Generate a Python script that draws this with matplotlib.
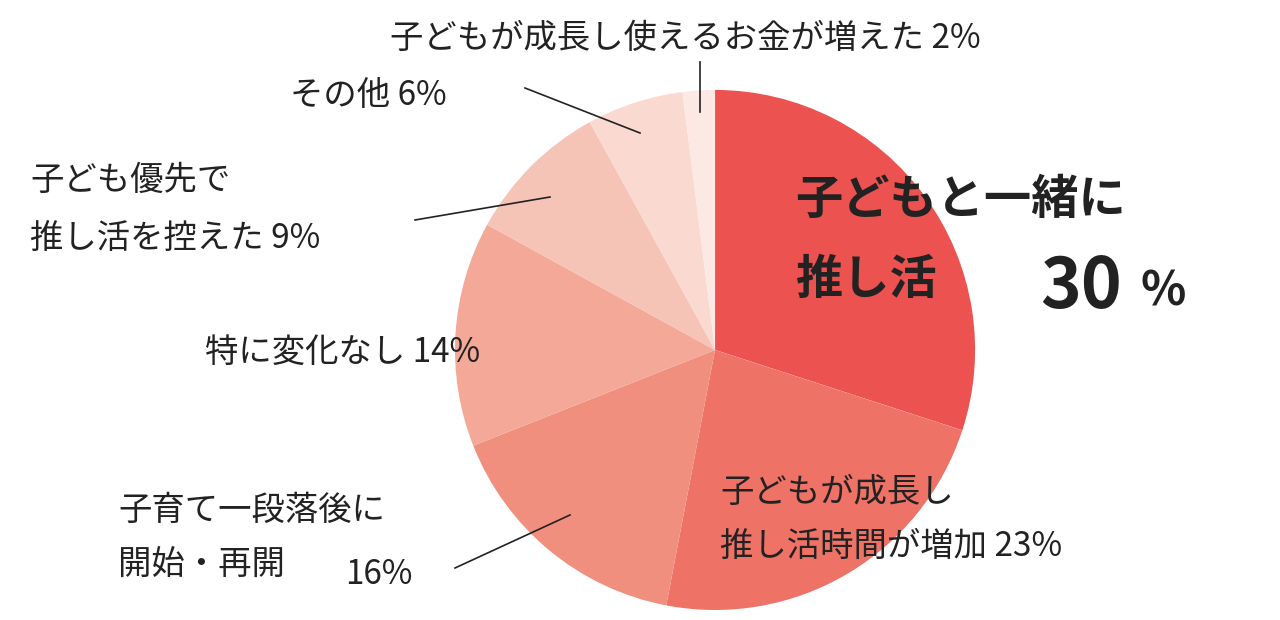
import matplotlib
matplotlib.use("Agg")
import matplotlib.pyplot as plt

plt.rcParams['font.family'] = ['Noto Sans CJK JP', 'DejaVu Sans']

labels = ["子どもと一緒に推し活", "子どもが成長し推し活時間が増加", "子育て一段落後に開始・再開",
          "特に変化なし", "子ども優先で推し活を控えた", "その他", "子どもが成長し使えるお金が増えた"]
values = [30, 23, 16, 14, 9, 6, 2]
colors = ["#EB5250", "#EE7266", "#F08F7E", "#F3A898", "#F6C3B7", "#F9D9D0", "#FCE9E4"]
explode = [0.11, 0, 0, 0, 0, 0, 0]

fig = plt.figure(figsize=(12.8, 6.2), dpi=100)
ax = fig.add_axes([0, 0, 1, 1])

H = 620
def Y(y): return H - y

ax.pie(values, colors=colors, explode=explode, startangle=90, counterclock=False,
       center=(715, Y(350)), radius=260, frame=True,
       wedgeprops=dict(linewidth=0))
ax.set_xlim(0, 1280); ax.set_ylim(0, 620); ax.set_aspect('equal'); ax.axis('off')

fs = 24
c = "#222222"
def t(x, y, s, **kw):
    kw.setdefault('fontsize', fs)
    ax.text(x, Y(y), s, color=c, va='center', **kw)
def line(x1, y1, x2, y2):
    ax.plot([x1, x2], [Y(y1), Y(y2)], color=c, lw=1.2)

t(390, 38, f"子どもが成長し使えるお金が増えた {values[6]}%")
line(700, 62, 700, 112)
t(290, 95, f"その他 {values[5]}%")
line(525, 88, 640, 133)
t(30, 180, "子ども優先で")
t(30, 238, f"推し活を控えた {values[4]}%")
line(415, 220, 550, 197)
t(205, 352, f"特に変化なし {values[3]}%")
t(118, 510, "子育て一段落後に")
t(118, 565, "開始・再開")
t(345, 575, f"{values[2]}%")
line(455, 568, 570, 515)
t(720, 492, "子どもが成長し")
t(720, 546, f"推し活時間が増加 {values[1]}%")
t(795, 200, "子どもと一緒に", fontsize=34, fontweight='bold')
t(795, 280, "推し活", fontsize=34, fontweight='bold')
t(1040, 288, f"{values[0]}", fontsize=50, fontweight='bold')
t(1140, 292, "%", fontsize=34, fontweight='bold')

fig.savefig("out.png", dpi=100)
